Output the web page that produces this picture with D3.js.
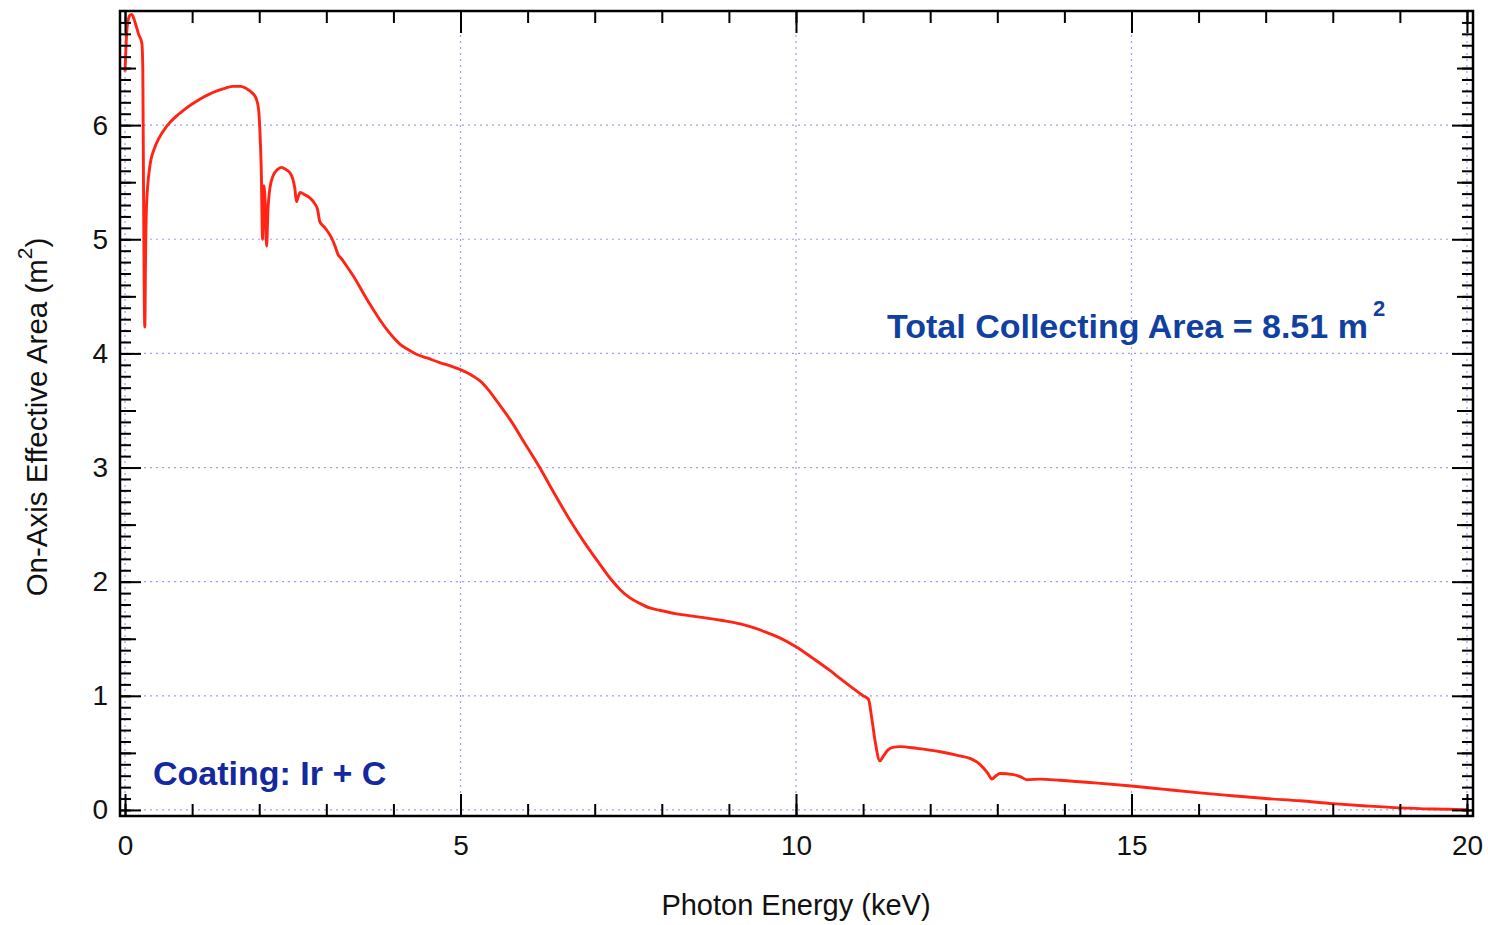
<!DOCTYPE html>
<html>
<head>
<meta charset="utf-8">
<script src="https://cdn.jsdelivr.net/npm/d3@7"></script>
<style>
  html, body { margin: 0; padding: 0; background: #fff; }
  svg { display: block; font-family: "Liberation Sans", Arial, Helvetica, sans-serif; }
</style>
</head>
<body>
<svg id="chart" width="1488" height="925"></svg>
<script>
// Photon energy (keV) samples of the effective-area curve
const energy = [
  0.0, 0.03, 0.07, 0.1, 0.15, 0.2, 0.25, 0.265, 0.275, 0.285, 0.295, 0.305, 0.32, 0.37, 0.44, 0.5,
  0.62, 0.75, 0.87, 1.0, 1.12, 1.25, 1.37, 1.5, 1.61, 1.72, 1.81, 1.9, 1.95, 1.99, 2.01, 2.03,
  2.05, 2.07, 2.09, 2.11, 2.13, 2.16, 2.21, 2.27, 2.33, 2.40, 2.46, 2.50, 2.53, 2.555, 2.58, 2.61,
  2.68, 2.76, 2.83, 2.87, 2.90, 2.93, 2.98, 3.03, 3.08, 3.13, 3.18, 3.21, 3.25, 3.32, 3.40, 3.52,
  3.65, 3.78, 3.90, 4.0, 4.10, 4.2, 4.35, 4.5, 4.69, 4.85, 4.99, 5.1, 5.19, 5.3, 5.41, 5.55,
  5.74, 5.95, 6.18, 6.4, 6.63, 6.85, 7.08, 7.23, 7.38, 7.52, 7.67, 7.82, 7.97, 8.2, 8.57, 8.9,
  9.17, 9.4, 9.54, 9.75, 10.0, 10.25, 10.51, 10.66, 10.85, 11.0, 11.08, 11.13, 11.18, 11.25, 11.30, 11.38,
  11.46, 11.55, 11.8, 12.15, 12.39, 12.62, 12.72, 12.79, 12.86, 12.92, 12.98, 13.04, 13.24, 13.35, 13.44, 13.64,
  13.93, 14.5, 15.0, 15.5, 16.02, 16.5, 17.0, 17.51, 18.0, 18.5, 19.0, 19.5, 20.0
];

// On-axis effective area (m^2) at each energy sample
const area = [
  6.47, 6.85, 6.96, 6.97, 6.90, 6.80, 6.72, 6.50, 5.50, 4.60, 4.23, 4.80, 5.29, 5.64, 5.80, 5.88,
  5.99, 6.07, 6.13, 6.185, 6.23, 6.27, 6.30, 6.325, 6.34, 6.34, 6.32, 6.28, 6.24, 6.14, 5.95, 5.62,
  5.00, 5.47, 5.30, 4.94, 5.25, 5.45, 5.56, 5.61, 5.63, 5.61, 5.58, 5.53, 5.45, 5.33, 5.37, 5.41,
  5.39, 5.36, 5.31, 5.26, 5.16, 5.13, 5.10, 5.06, 5.01, 4.94, 4.86, 4.84, 4.81, 4.75, 4.68, 4.56,
  4.43, 4.31, 4.21, 4.14, 4.08, 4.04, 3.99, 3.96, 3.92, 3.89, 3.86, 3.83, 3.80, 3.755, 3.685, 3.575,
  3.42, 3.22, 3.00, 2.77, 2.54, 2.34, 2.15, 2.03, 1.93, 1.86, 1.81, 1.77, 1.75, 1.72, 1.69, 1.66,
  1.63, 1.59, 1.56, 1.51, 1.43, 1.33, 1.22, 1.15, 1.065, 1.00, 0.97, 0.80, 0.60, 0.43, 0.47, 0.53,
  0.55, 0.555, 0.54, 0.51, 0.48, 0.445, 0.41, 0.37, 0.32, 0.27, 0.30, 0.32, 0.31, 0.29, 0.265, 0.27,
  0.26, 0.235, 0.21, 0.18, 0.15, 0.125, 0.10, 0.08, 0.055, 0.035, 0.018, 0.008, 0.003
];

// Axis tick values and labels
const xMajorTicks = [0, 5, 10, 15, 20];
const xMinorTicks = d3.range(0, 21, 1);
const yMajorTicks = [0, 1, 2, 3, 4, 5, 6];
const yMidTicks = [0.5, 1.5, 2.5, 3.5, 4.5, 5.5, 6.5];
const yMinorTicks = d3.range(0, 70, 1).map(i => i / 10);

const xTitle = "Photon Energy (keV)";
const yTitle = "On-Axis Effective Area (m";
const totalLabel = "Total Collecting Area = 8.51 m";
const coatingLabel = "Coating: Ir + C";

const svg = d3.select("#chart");

// Plot frame
const frame = { left: 120, right: 1473, top: 11, bottom: 816 };

const x = d3.scaleLinear().domain([-0.075, 20.09]).range([frame.left, frame.right]);
const y = d3.scaleLinear().domain([-0.053, 7.0]).range([frame.bottom, frame.top]);

// Dotted grid at major ticks
const gridColor = "#9c9ef2";
svg.append("g").selectAll("line.gx")
  .data(xMajorTicks).join("line")
  .attr("x1", d => x(d)).attr("x2", d => x(d))
  .attr("y1", frame.top).attr("y2", frame.bottom)
  .attr("stroke", gridColor).attr("stroke-width", 1.2)
  .attr("stroke-dasharray", "2,4");
svg.append("g").selectAll("line.gy")
  .data(yMajorTicks).join("line")
  .attr("x1", frame.left).attr("x2", frame.right)
  .attr("y1", d => y(d)).attr("y2", d => y(d))
  .attr("stroke", gridColor).attr("stroke-width", 1.2)
  .attr("stroke-dasharray", "2,4");

// Effective-area curve
const pts = energy.map((e, i) => [e, area[i]]);
const line = d3.line()
  .x(d => x(d[0]))
  .y(d => y(d[1]))
  .curve(d3.curveMonotoneX);
svg.append("path")
  .datum(pts)
  .attr("d", line)
  .attr("fill", "none")
  .attr("stroke", "#ff2414")
  .attr("stroke-width", 2.9)
  .attr("stroke-linejoin", "round");

// Axis styling helper
function styleAxis(g, fontSize) {
  g.select(".domain").remove();
  g.selectAll(".tick line").attr("stroke", "#000").attr("stroke-width", 2);
  g.selectAll(".tick text")
    .attr("fill", "#111")
    .style("font-size", fontSize + "px")
    .style("font-family", "'Liberation Sans', Arial, sans-serif");
}

// Bottom axis (inward ticks, labelled majors)
svg.append("g").attr("transform", `translate(0,${frame.bottom})`)
  .call(d3.axisBottom(x).tickValues(xMinorTicks).tickSizeInner(-12).tickSizeOuter(0).tickFormat(""))
  .call(g => styleAxis(g, 28));
svg.append("g").attr("transform", `translate(0,${frame.bottom})`)
  .call(d3.axisBottom(x).tickValues(xMajorTicks).tickSizeInner(-22).tickSizeOuter(0).tickPadding(19).tickFormat(d3.format("d")))
  .call(g => styleAxis(g, 28));

// Top axis (inward ticks, no labels)
svg.append("g").attr("transform", `translate(0,${frame.top})`)
  .call(d3.axisTop(x).tickValues(xMinorTicks).tickSizeInner(-12).tickSizeOuter(0).tickFormat(""))
  .call(g => styleAxis(g, 28));
svg.append("g").attr("transform", `translate(0,${frame.top})`)
  .call(d3.axisTop(x).tickValues(xMajorTicks).tickSizeInner(-22).tickSizeOuter(0).tickFormat(""))
  .call(g => styleAxis(g, 28));

// Left axis
svg.append("g").attr("transform", `translate(${frame.left},0)`)
  .call(d3.axisLeft(y).tickValues(yMinorTicks).tickSizeInner(-11).tickSizeOuter(0).tickFormat(""))
  .call(g => styleAxis(g, 28));
svg.append("g").attr("transform", `translate(${frame.left},0)`)
  .call(d3.axisLeft(y).tickValues(yMidTicks).tickSizeInner(-16).tickSizeOuter(0).tickFormat(""))
  .call(g => styleAxis(g, 28));
svg.append("g").attr("transform", `translate(${frame.left},0)`)
  .call(d3.axisLeft(y).tickValues(yMajorTicks).tickSizeInner(-21).tickSizeOuter(0).tickPadding(12).tickFormat(d3.format("d")))
  .call(g => styleAxis(g, 28));

// Right axis
svg.append("g").attr("transform", `translate(${frame.right},0)`)
  .call(d3.axisRight(y).tickValues(yMinorTicks).tickSizeInner(-11).tickSizeOuter(0).tickFormat(""))
  .call(g => styleAxis(g, 28));
svg.append("g").attr("transform", `translate(${frame.right},0)`)
  .call(d3.axisRight(y).tickValues(yMidTicks).tickSizeInner(-16).tickSizeOuter(0).tickFormat(""))
  .call(g => styleAxis(g, 28));
svg.append("g").attr("transform", `translate(${frame.right},0)`)
  .call(d3.axisRight(y).tickValues(yMajorTicks).tickSizeInner(-21).tickSizeOuter(0).tickFormat(""))
  .call(g => styleAxis(g, 28));

// Frame border
svg.append("rect")
  .attr("x", frame.left).attr("y", frame.top)
  .attr("width", frame.right - frame.left)
  .attr("height", frame.bottom - frame.top)
  .attr("fill", "none").attr("stroke", "#000").attr("stroke-width", 2.5);

// Axis titles
svg.append("text")
  .attr("x", 796).attr("y", 915)
  .attr("text-anchor", "middle")
  .attr("fill", "#111")
  .style("font-size", "29px")
  .text(xTitle);

const yt = svg.append("text")
  .attr("transform", "translate(47,417) rotate(-90)")
  .attr("text-anchor", "middle")
  .attr("fill", "#111")
  .style("font-size", "29.5px");
yt.append("tspan").text(yTitle);
yt.append("tspan").attr("dy", -15).style("font-size", "21px").text("2");
yt.append("tspan").attr("dy", 15).text(")");

// Annotations
const tl = svg.append("text")
  .attr("x", 887).attr("y", 338)
  .attr("fill", "#1040a0")
  .style("font-size", "34px").style("font-weight", "bold");
tl.append("tspan").text(totalLabel);
tl.append("tspan").attr("dx", 5).attr("dy", -22).style("font-size", "22px").text("2");

svg.append("text")
  .attr("x", 153).attr("y", 785)
  .attr("fill", "#1428a0")
  .style("font-size", "34px").style("font-weight", "bold")
  .text(coatingLabel);
</script>
</body>
</html>
